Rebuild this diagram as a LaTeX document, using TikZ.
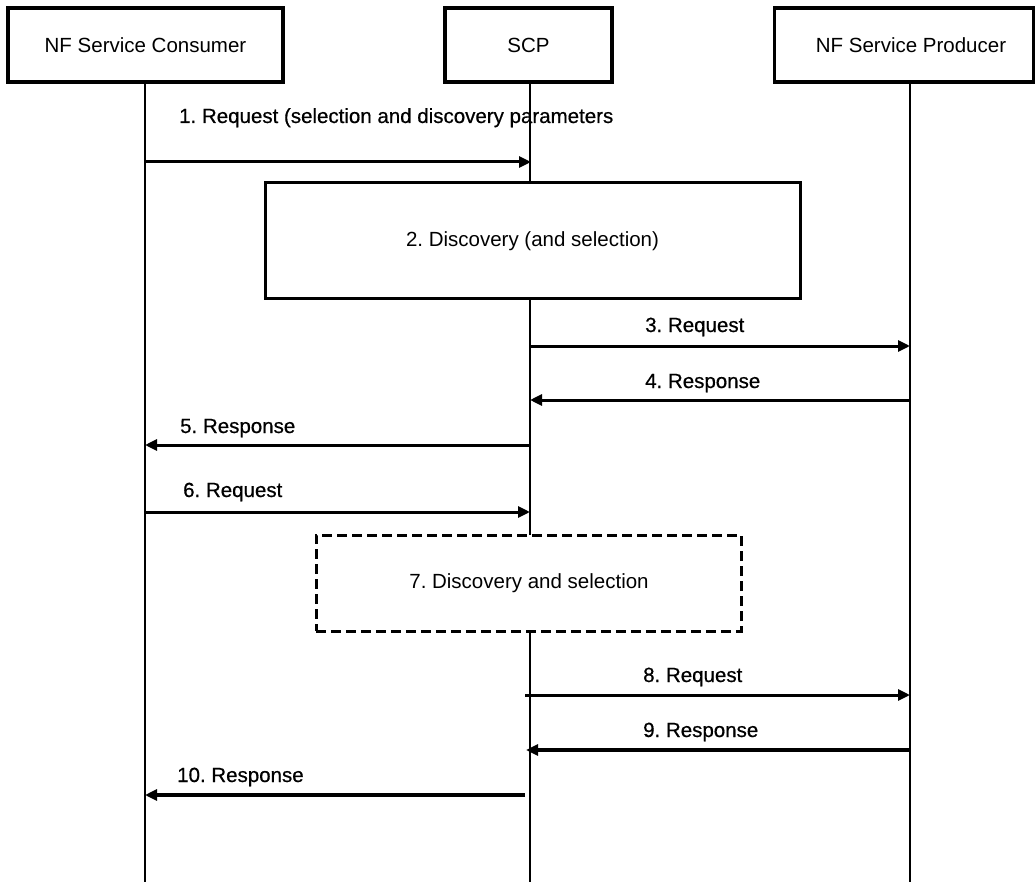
\documentclass[tikz,border=0pt]{standalone}
\usepackage{fontspec}
\setmainfont{Liberation Sans}
\newfontfamily\lblfont[FakeBold=0.6]{Liberation Sans}
\frenchspacing
\usetikzlibrary{arrows.meta}
\begin{document}
\begin{tikzpicture}[x=1pt,y=-1pt,
  txt/.style={font=\fontsize{20.5}{24}\selectfont},
  entity/.style={draw,line width=3.5pt,minimum height=74pt,inner sep=0pt,fill=white,txt},
  life/.style={line width=2pt},
  msg/.style={line width=3pt,-{Triangle[length=12pt,width=11pt]}},
  msgb/.style={msg,line width=3.5pt},
  lbl/.style={font=\lblfont\fontsize{20.5}{24}\selectfont,inner sep=0pt,anchor=base west},
  proc/.style={draw,line width=3pt,fill=white,inner sep=0pt,txt},
  procdash/.style={proc,dash pattern=on 10pt off 5pt},
]
\useasboundingbox (0,0) rectangle (1035,882);

% entities
\node[entity,minimum width=275pt] (cons) at (145.5,45) {NF Service Consumer};
\node[entity,minimum width=167pt] (scp) at (528.5,45) {SCP};
\node[entity,minimum width=259pt] (prod) at (904,45) {\hspace*{14pt}NF Service Producer};

% lifeline ends
\coordinate (consEnd) at (145,882);
\coordinate (scpEnd) at (530,882);
\coordinate (prodEnd) at (910,882);
\draw[life] (cons.south -| consEnd) -- (consEnd);
\draw[life] (scp.south -| scpEnd) -- (scpEnd);
\draw[life] (prod.south -| prodEnd) -- (prodEnd);

% processing boxes (cover the SCP lifeline)
\node[proc,minimum width=535pt,minimum height=116pt] (disc) at (532.5,241) {2. Discovery (and selection)};
\node[procdash,minimum width=425pt,minimum height=96pt] (disc7) at (528.5,583) {};
\node[txt,inner sep=0pt] (disc7t) at (529,583) {7. Discovery and selection};

% message end points
\coordinate (c1) at (145,162);  \coordinate (s1) at (531,162);
\coordinate (s3) at (530,346);  \coordinate (p3) at (910,346);
\coordinate (p4) at (910,400);  \coordinate (s4) at (530,400);
\coordinate (s5) at (530,445);  \coordinate (c5) at (145,445);
\coordinate (c6) at (145,512);  \coordinate (s6) at (530,512);
\coordinate (s8) at (525,695);  \coordinate (p8) at (910,695);
\coordinate (p9) at (910,750);  \coordinate (s9) at (526,750);
\coordinate (s10) at (525,795); \coordinate (c10) at (145,795);

% messages
\draw[msg] (c1) -- (s1);
\draw[msg] (s3) -- (p3);
\draw[msg] (p4) -- (s4);
\draw[msg] (s5) -- (c5);
\draw[msg] (c6) -- (s6);
\draw[msg] (s8) -- (p8);
\draw[msgb] (p9) -- (s9);
\draw[msgb] (s10) -- (c10);

% labels
\node[lbl] (l1) at (179,123) {1. Request (selection and discovery parameters};
\node[lbl] (l3) at (645,332) {3. Request};
\node[lbl] (l4) at (645,388) {4. Response};
\node[lbl] (l5) at (180,433) {5. Response};
\node[lbl] (l6) at (183,497) {6. Request};
\node[lbl] (l8) at (643,682) {8. Request};
\node[lbl] (l9) at (643,737) {9. Response};
\node[lbl] (l10) at (177,782) {10. Response};
\end{tikzpicture}
\end{document}
